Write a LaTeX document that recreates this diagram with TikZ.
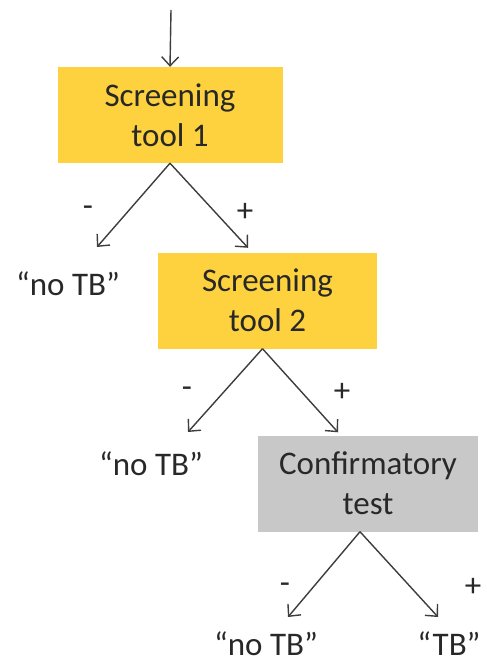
\documentclass[tikz,border=0pt]{standalone}
\usepackage{fontspec}
\setmainfont{Carlito}
\usetikzlibrary{arrows.meta}

\definecolor{screenyellow}{RGB}{253,210,62}
\definecolor{confirmgrey}{RGB}{200,200,200}
\definecolor{inkgrey}{RGB}{40,40,40}

\begin{document}
\begin{tikzpicture}[x=1pt, y=-1pt,
    every node/.style={text=inkgrey, font=\fontsize{33}{40}\selectfont},
    testbox/.style={align=center, inner sep=0pt, minimum height=96pt},
    outcome/.style={anchor=base, inner sep=0pt},
    branch/.style={draw=inkgrey!90, line width=1.4pt, -{Straight Barb[length=9pt, width=17pt, line width=1.4pt]}}]
    \useasboundingbox (0,0) rectangle (487,662);

    % Entry arrow into the first screening
    \coordinate (start) at (171,10);

    % The three test boxes
    \node[testbox, fill=screenyellow, minimum width=225pt] (screenA) at (170,115) {Screening\\tool 1};
    \node[testbox, fill=screenyellow, minimum width=219pt] (screenB) at (267.5,300.5) {Screening\\tool 2};
    \node[testbox, fill=confirmgrey, minimum width=220pt] (confirm) at (368,483.5) {Confirmatory\\test};

    % Outcomes (placed on their baselines)
    \node[outcome] (negA) at (68,295) {“no TB”};
    \node[outcome] (negB) at (151,475) {“no TB”};
    \node[outcome] (negC) at (266,655) {“no TB”};
    \node[outcome] (posC) at (449,655) {“TB”};

    % Signs on the branches
    \node (minusA) at (88,211) {-};
    \node (plusA) at (245,212) {+};
    \node (minusB) at (187,392) {-};
    \node (plusB) at (342,392) {+};
    \node (minusC) at (285,588) {-};
    \node (plusC) at (473,587) {+};

    % Arrows
    \draw[branch] (start) -- (screenA.north);
    \draw[branch] (screenA.south) -- ([shift={(29,-48)}]negA.base);
    \draw[branch] (screenA.south) -- ([shift={(-19.5,-4.5)}]screenB.north);
    \draw[branch] ([xshift=-5pt]screenB.south) -- ([shift={(37,-43)}]negB.base);
    \draw[branch] ([xshift=-5pt]screenB.south) -- ([shift={(-30,-3)}]confirm.north);
    \draw[branch] ([xshift=-8pt]confirm.south) -- ([shift={(22,-38)}]negC.base);
    \draw[branch] ([xshift=-8pt]confirm.south) -- ([shift={(-11,-38)}]posC.base);
\end{tikzpicture}
\end{document}
